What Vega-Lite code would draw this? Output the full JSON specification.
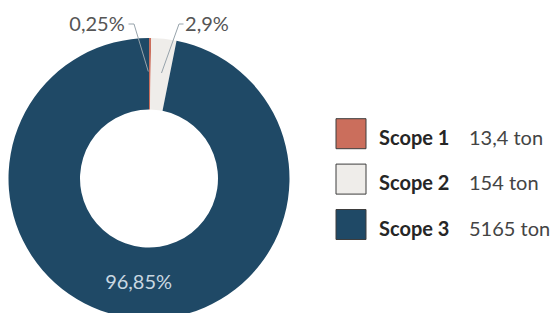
{
  "$schema": "https://vega.github.io/schema/vega-lite/v6.json",
  "width": 552,
  "height": 313,
  "padding": 0,
  "autosize": {"type": "none"},
  "background": "white",
  "config": {"view": {"stroke": null}, "font": "Lato"},
  "datasets": {
    "main": [
      {"scope": "Scope 1", "value": 13.4, "pct": "0,25%", "tons": "13,4 ton"},
      {"scope": "Scope 2", "value": 154, "pct": "2,9%", "tons": "154 ton"},
      {"scope": "Scope 3", "value": 5165, "pct": "96,85%", "tons": "5165 ton"}
    ],
    "callouts": [
      {"scope": "Scope 1", "pct": "0,25%", "x": -52, "y": 147.8},
      {"scope": "Scope 2", "pct": "2,9%", "x": 58, "y": 147.8}
    ],
    "leaders": [
      {"scope": "Scope 1", "i": 0, "x": -20.5, "y": 154.5},
      {"scope": "Scope 1", "i": 1, "x": -15, "y": 154.5},
      {"scope": "Scope 1", "i": 2, "x": -0.7, "y": 107},
      {"scope": "Scope 2", "i": 0, "x": 34.5, "y": 154.5},
      {"scope": "Scope 2", "i": 1, "x": 30, "y": 154.5},
      {"scope": "Scope 2", "i": 2, "x": 12.5, "y": 105.5}
    ]
  },
  "layer": [
    {
      "layer": [
        {
          "data": {"name": "main"},
          "mark": {"type": "arc", "outerRadius": 140.5, "innerRadius": 69},
          "encoding": {
            "theta": {"field": "value", "type": "quantitative", "stack": true},
            "color": {
              "field": "scope", "type": "nominal",
              "scale": {"domain": ["Scope 1", "Scope 2", "Scope 3"], "range": ["#CB6E5C", "#EFEDEA", "#1F4966"]},
              "legend": null
            },
            "x": {"datum": 0, "type": "quantitative", "scale": {"domain": [-149, 403], "nice": false, "zero": false}, "axis": null},
            "y": {"datum": 0, "type": "quantitative", "scale": {"domain": [-134.5, 178.5], "nice": false, "zero": false}, "axis": null}
          }
        },
        {
          "data": {"name": "main"},
          "mark": {"type": "text", "fontSize": 20, "color": "#C9D7E1", "baseline": "middle", "align": "center"},
          "encoding": {
            "theta": {"field": "value", "type": "quantitative", "stack": true},
            "radius": {"value": 105.5},
            "text": {"condition": {"test": "datum.scope === 'Scope 3'", "field": "pct"}, "value": ""},
            "x": {"datum": 0, "type": "quantitative", "scale": {"domain": [-149, 403], "nice": false, "zero": false}, "axis": null},
            "y": {"datum": 0, "type": "quantitative", "scale": {"domain": [-134.5, 178.5], "nice": false, "zero": false}, "axis": null}
          }
        },
        {
          "data": {"name": "leaders"},
          "mark": {"type": "line", "stroke": "#97A3AB", "strokeWidth": 1},
          "encoding": {
            "x": {"field": "x", "type": "quantitative", "scale": {"domain": [-149, 403], "nice": false, "zero": false}, "axis": null},
            "y": {"field": "y", "type": "quantitative", "scale": {"domain": [-134.5, 178.5], "nice": false, "zero": false}, "axis": null},
            "detail": {"field": "scope"},
            "order": {"field": "i", "type": "quantitative"}
          }
        },
        {
          "data": {"name": "callouts"},
          "mark": {"type": "text", "fontSize": 20, "color": "#555555", "align": "center", "baseline": "alphabetic"},
          "encoding": {
            "x": {"field": "x", "type": "quantitative", "scale": {"domain": [-149, 403], "nice": false, "zero": false}, "axis": null},
            "y": {"field": "y", "type": "quantitative", "scale": {"domain": [-134.5, 178.5], "nice": false, "zero": false}, "axis": null},
            "text": {"field": "pct"}
          }
        }
      ]
    },
    {
      "data": {"name": "main"},
      "encoding": {
        "y": {"field": "scope", "type": "nominal", "scale": {"type": "point", "padding": 0, "domain": ["Scope 1", "Scope 2", "Scope 3"], "range": [133.7, 224.5]}, "axis": null}
      },
      "layer": [
        {
          "mark": {"type": "point", "shape": "square", "size": 900, "filled": true, "opacity": 1, "stroke": "#3d3d3d", "strokeWidth": 1},
          "encoding": {
            "xOffset": {"value": 75},
            "color": {"field": "scope", "type": "nominal", "legend": null}
          }
        },
        {
          "mark": {"type": "text", "fontSize": 20, "fontWeight": "bold", "color": "#262626", "align": "left", "baseline": "alphabetic", "dx": 103, "dy": 11},
          "encoding": {"text": {"field": "scope"}}
        },
        {
          "mark": {"type": "text", "fontSize": 20, "color": "#444444", "align": "left", "baseline": "alphabetic", "dx": 193, "dy": 11},
          "encoding": {"text": {"field": "tons"}}
        }
      ]
    }
  ],
  "resolve": {"scale": {"y": "independent"}}
}
